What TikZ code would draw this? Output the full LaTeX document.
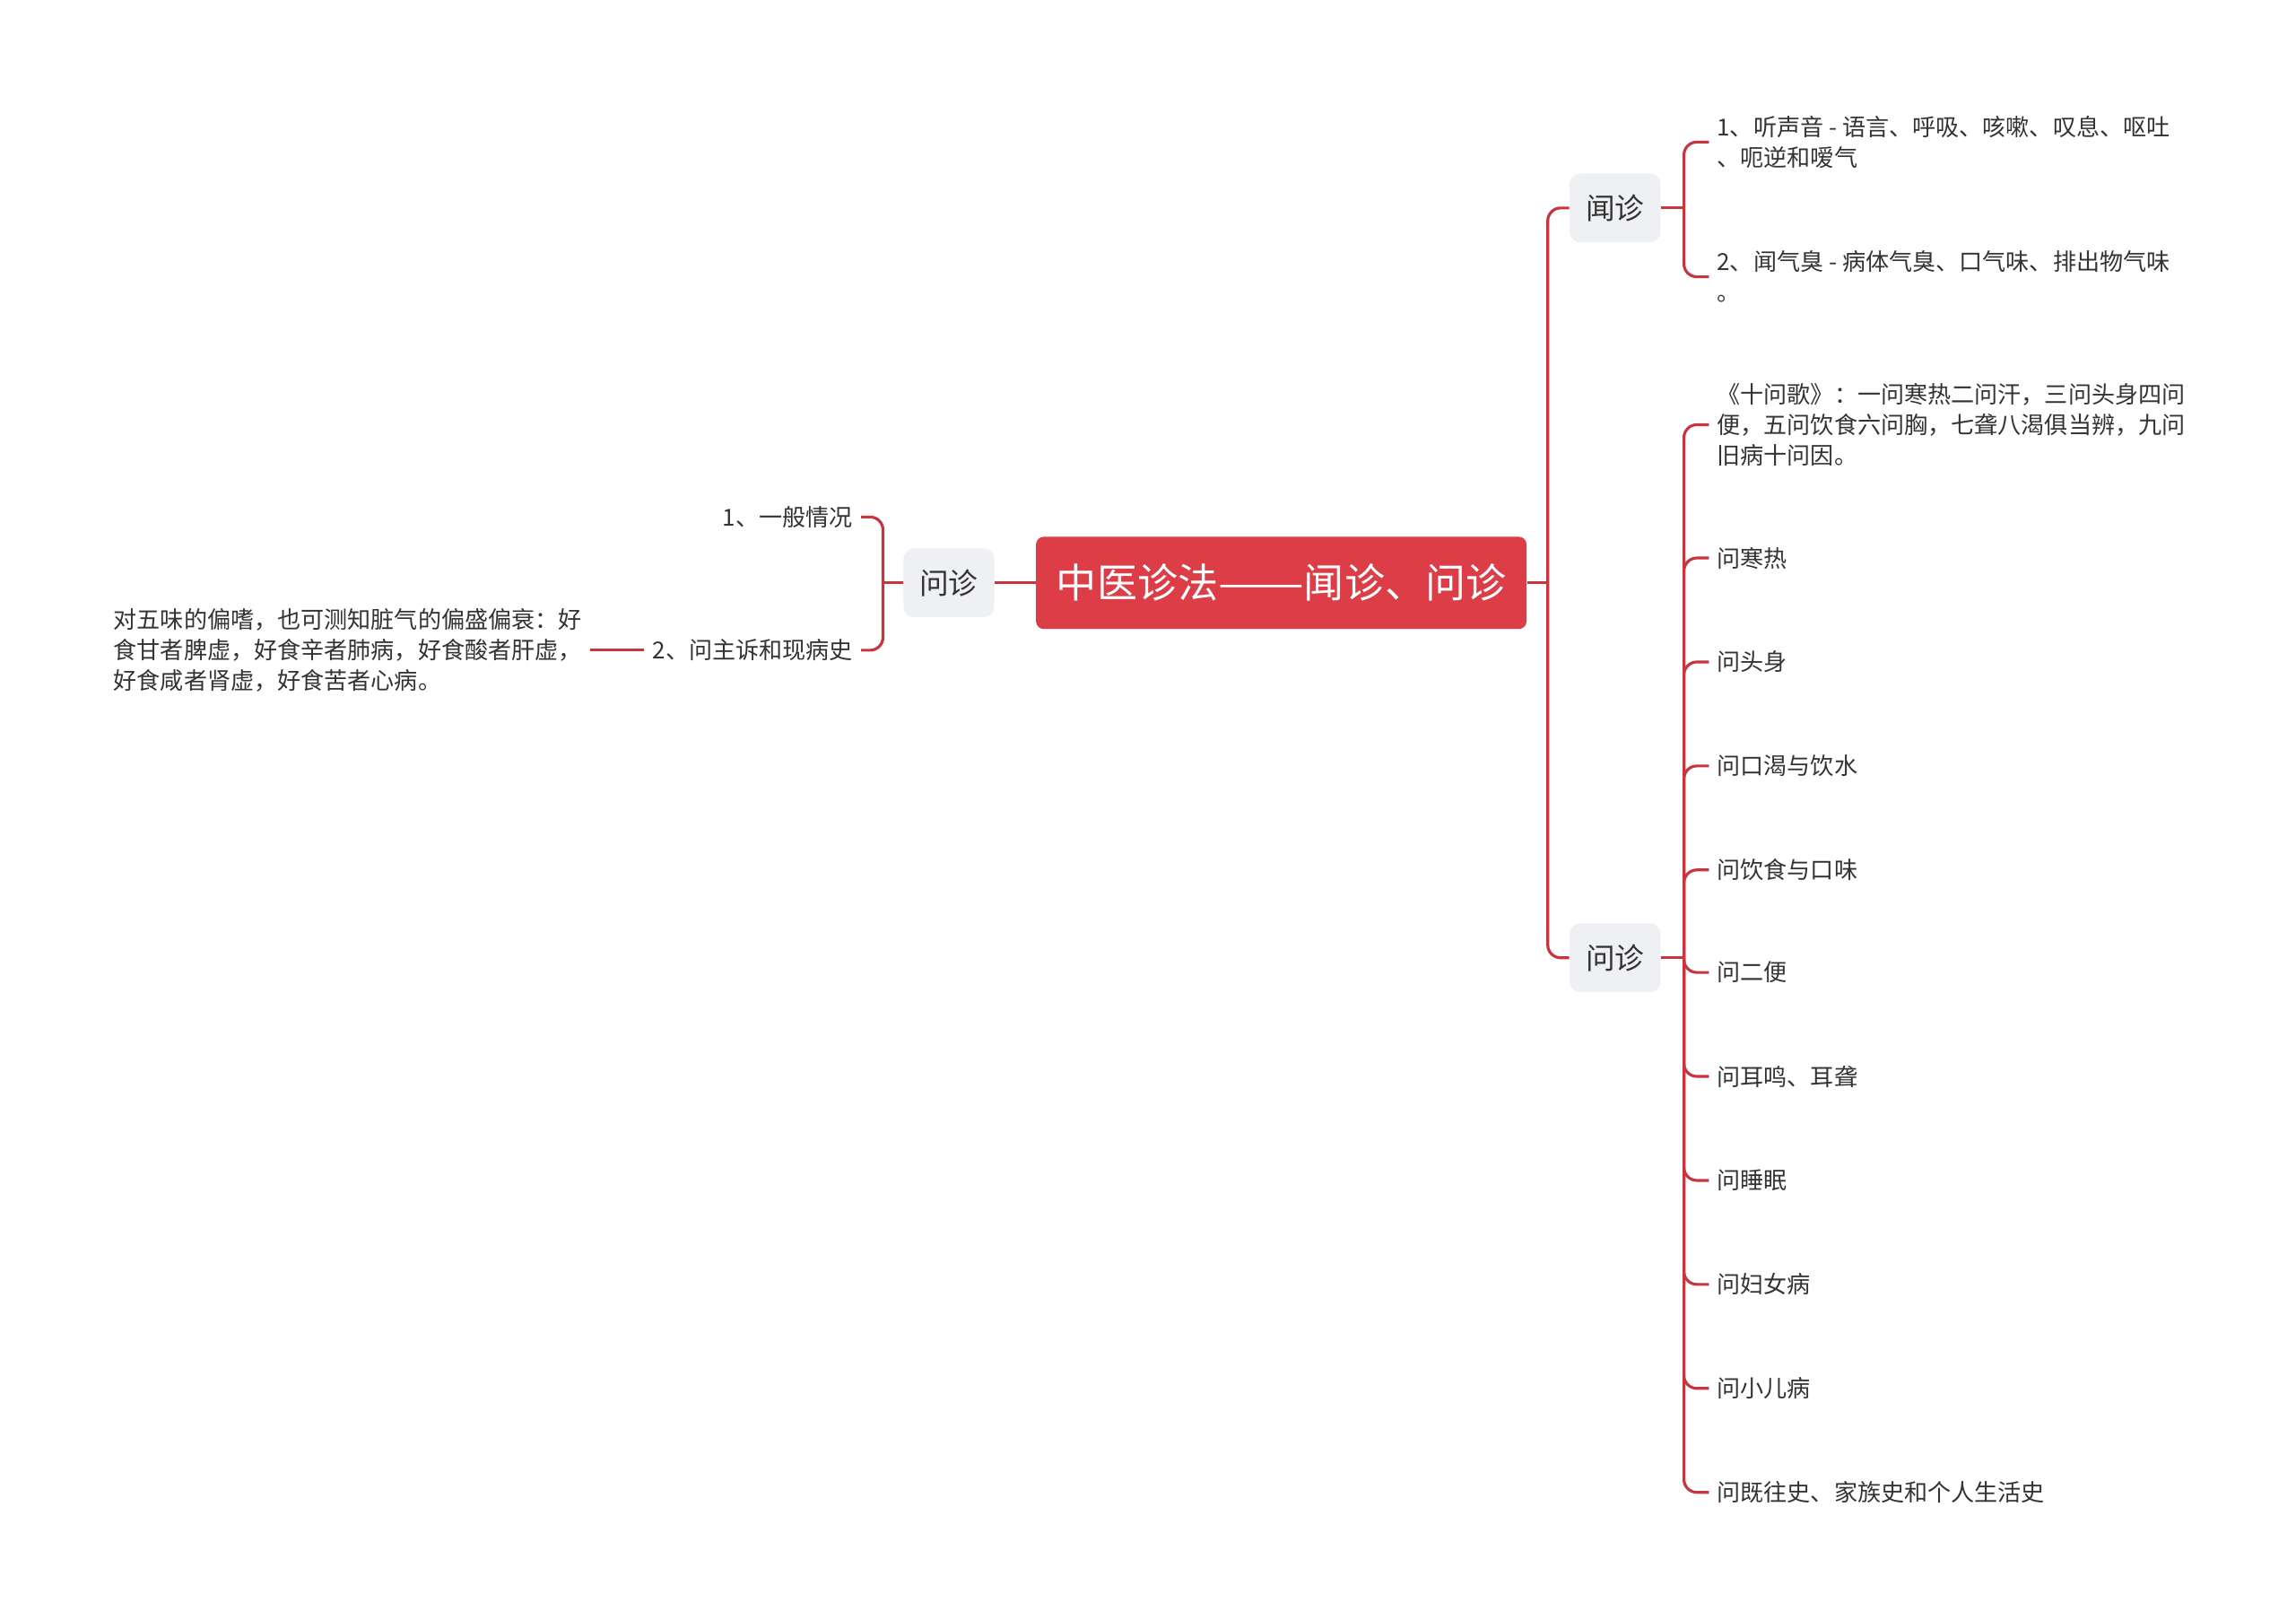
\documentclass[tikz,border=0pt]{standalone}
\usepackage{fontspec}
\setmainfont{Noto Sans CJK SC}
\usepackage{tikz}
\usetikzlibrary{positioning}
\definecolor{rootRed}{HTML}{DC3D47}
\definecolor{linkRed}{HTML}{C9353F}
\definecolor{topicGray}{HTML}{EEF0F3}
\definecolor{inkGray}{HTML}{333333}
\tikzset{
	rootBox/.style={rectangle, rounded corners=3pt, fill=rootRed, text=white, font=\fontsize{15.7}{18}\selectfont, minimum height=1.26cm, minimum width=6.66cm, inner xsep=0.28cm},
	topicBox/.style={rectangle, rounded corners=4pt, fill=topicGray, text=inkGray, font=\fontsize{11.4}{13}\selectfont, minimum height=0.94cm, inner xsep=0.22cm},
	leafText/.style={align=left, text=inkGray, font=\fontsize{9.1}{11.7}\selectfont, inner xsep=3pt, inner ysep=2pt},
	link/.style={linkRed, line width=1.1pt, rounded corners=5pt}
}

\begin{document}
\begin{tikzpicture}[x=0.02cm, y=-0.02cm]
\useasboundingbox (0,0) rectangle (1568,1106);
% main topics
\node [rootBox] (root) at (875,398) {中医诊法\scalebox{1.27}[1]{——}闻诊、问诊};
\node [topicBox] (askL) at (648,398) {问诊};
\node [topicBox] (smell) at (1103,142) {闻诊};
\node [topicBox] (askR) at (1103,654) {问诊};
\coordinate (jR) at (1057,398);
\coordinate (jSmell) at (1150,142);
\coordinate (jAskR) at (1150,654);
\coordinate (jAskL) at (603,398);

% left side
\node [leafText, anchor=east] (gen) at (588,353) {1、一般情况};
\node [leafText, anchor=east] (chief) at (588,444) {2、问主诉和现病史};
\node [leafText, anchor=east] (taste) at (403,444) {对五味的偏嗜，也可测知脏气的偏盛偏衰：好\\食甘者脾虚，好食辛者肺病，好食酸者肝虚，\\好食咸者肾虚，好食苦者心病。};

% right side: smelling
\node [leafText, anchor=west] (sound) at (1167,97) {1、听声音 - 语言、呼吸、咳嗽、叹息、呕吐\\、呃逆和嗳气};
\node [leafText, anchor=west] (odour) at (1167,189) {2、闻气臭 - 病体气臭、口气味、排出物气味\\。};

% right side: asking
\node [leafText, anchor=west] (song) at (1167,290) {《十问歌》：一问寒热二问汗，三问头身四问\\便，五问饮食六问胸，七聋八渴俱当辨，九问\\旧病十问因。};
\node [leafText, anchor=west] (q1) at (1167,381) {问寒热};
\node [leafText, anchor=west] (q2) at (1167,452) {问头身};
\node [leafText, anchor=west] (q3) at (1167,523) {问口渴与饮水};
\node [leafText, anchor=west] (q4) at (1167,594) {问饮食与口味};
\node [leafText, anchor=west] (q5) at (1167,664) {问二便};
\node [leafText, anchor=west] (q6) at (1167,735) {问耳鸣、耳聋};
\node [leafText, anchor=west] (q7) at (1167,806) {问睡眠};
\node [leafText, anchor=west] (q8) at (1167,877) {问妇女病};
\node [leafText, anchor=west] (q9) at (1167,948) {问小儿病};
\node [leafText, anchor=west] (q10) at (1167,1019) {问既往史、家族史和个人生活史};

% connectors
\draw [link] (root) -- (askL);
\draw [link] (askL) -- (jAskL);
\draw [link] (jAskL) |- (gen);
\draw [link] (jAskL) |- (chief);
\draw [link] (chief) -- (taste);

\draw [link] (root) -- (jR);
\draw [link] (jR) |- (smell);
\draw [link] (jR) |- (askR);
\draw [link] (smell) -- (jSmell);
\draw [link] (jSmell) |- (sound);
\draw [link] (jSmell) |- (odour);
\draw [link] (askR) -- (jAskR);
\foreach \leaf in {song,q1,q2,q3,q4,q5,q6,q7,q8,q9,q10}
  \draw [link] (jAskR) |- (\leaf);
\end{tikzpicture}
\end{document}
